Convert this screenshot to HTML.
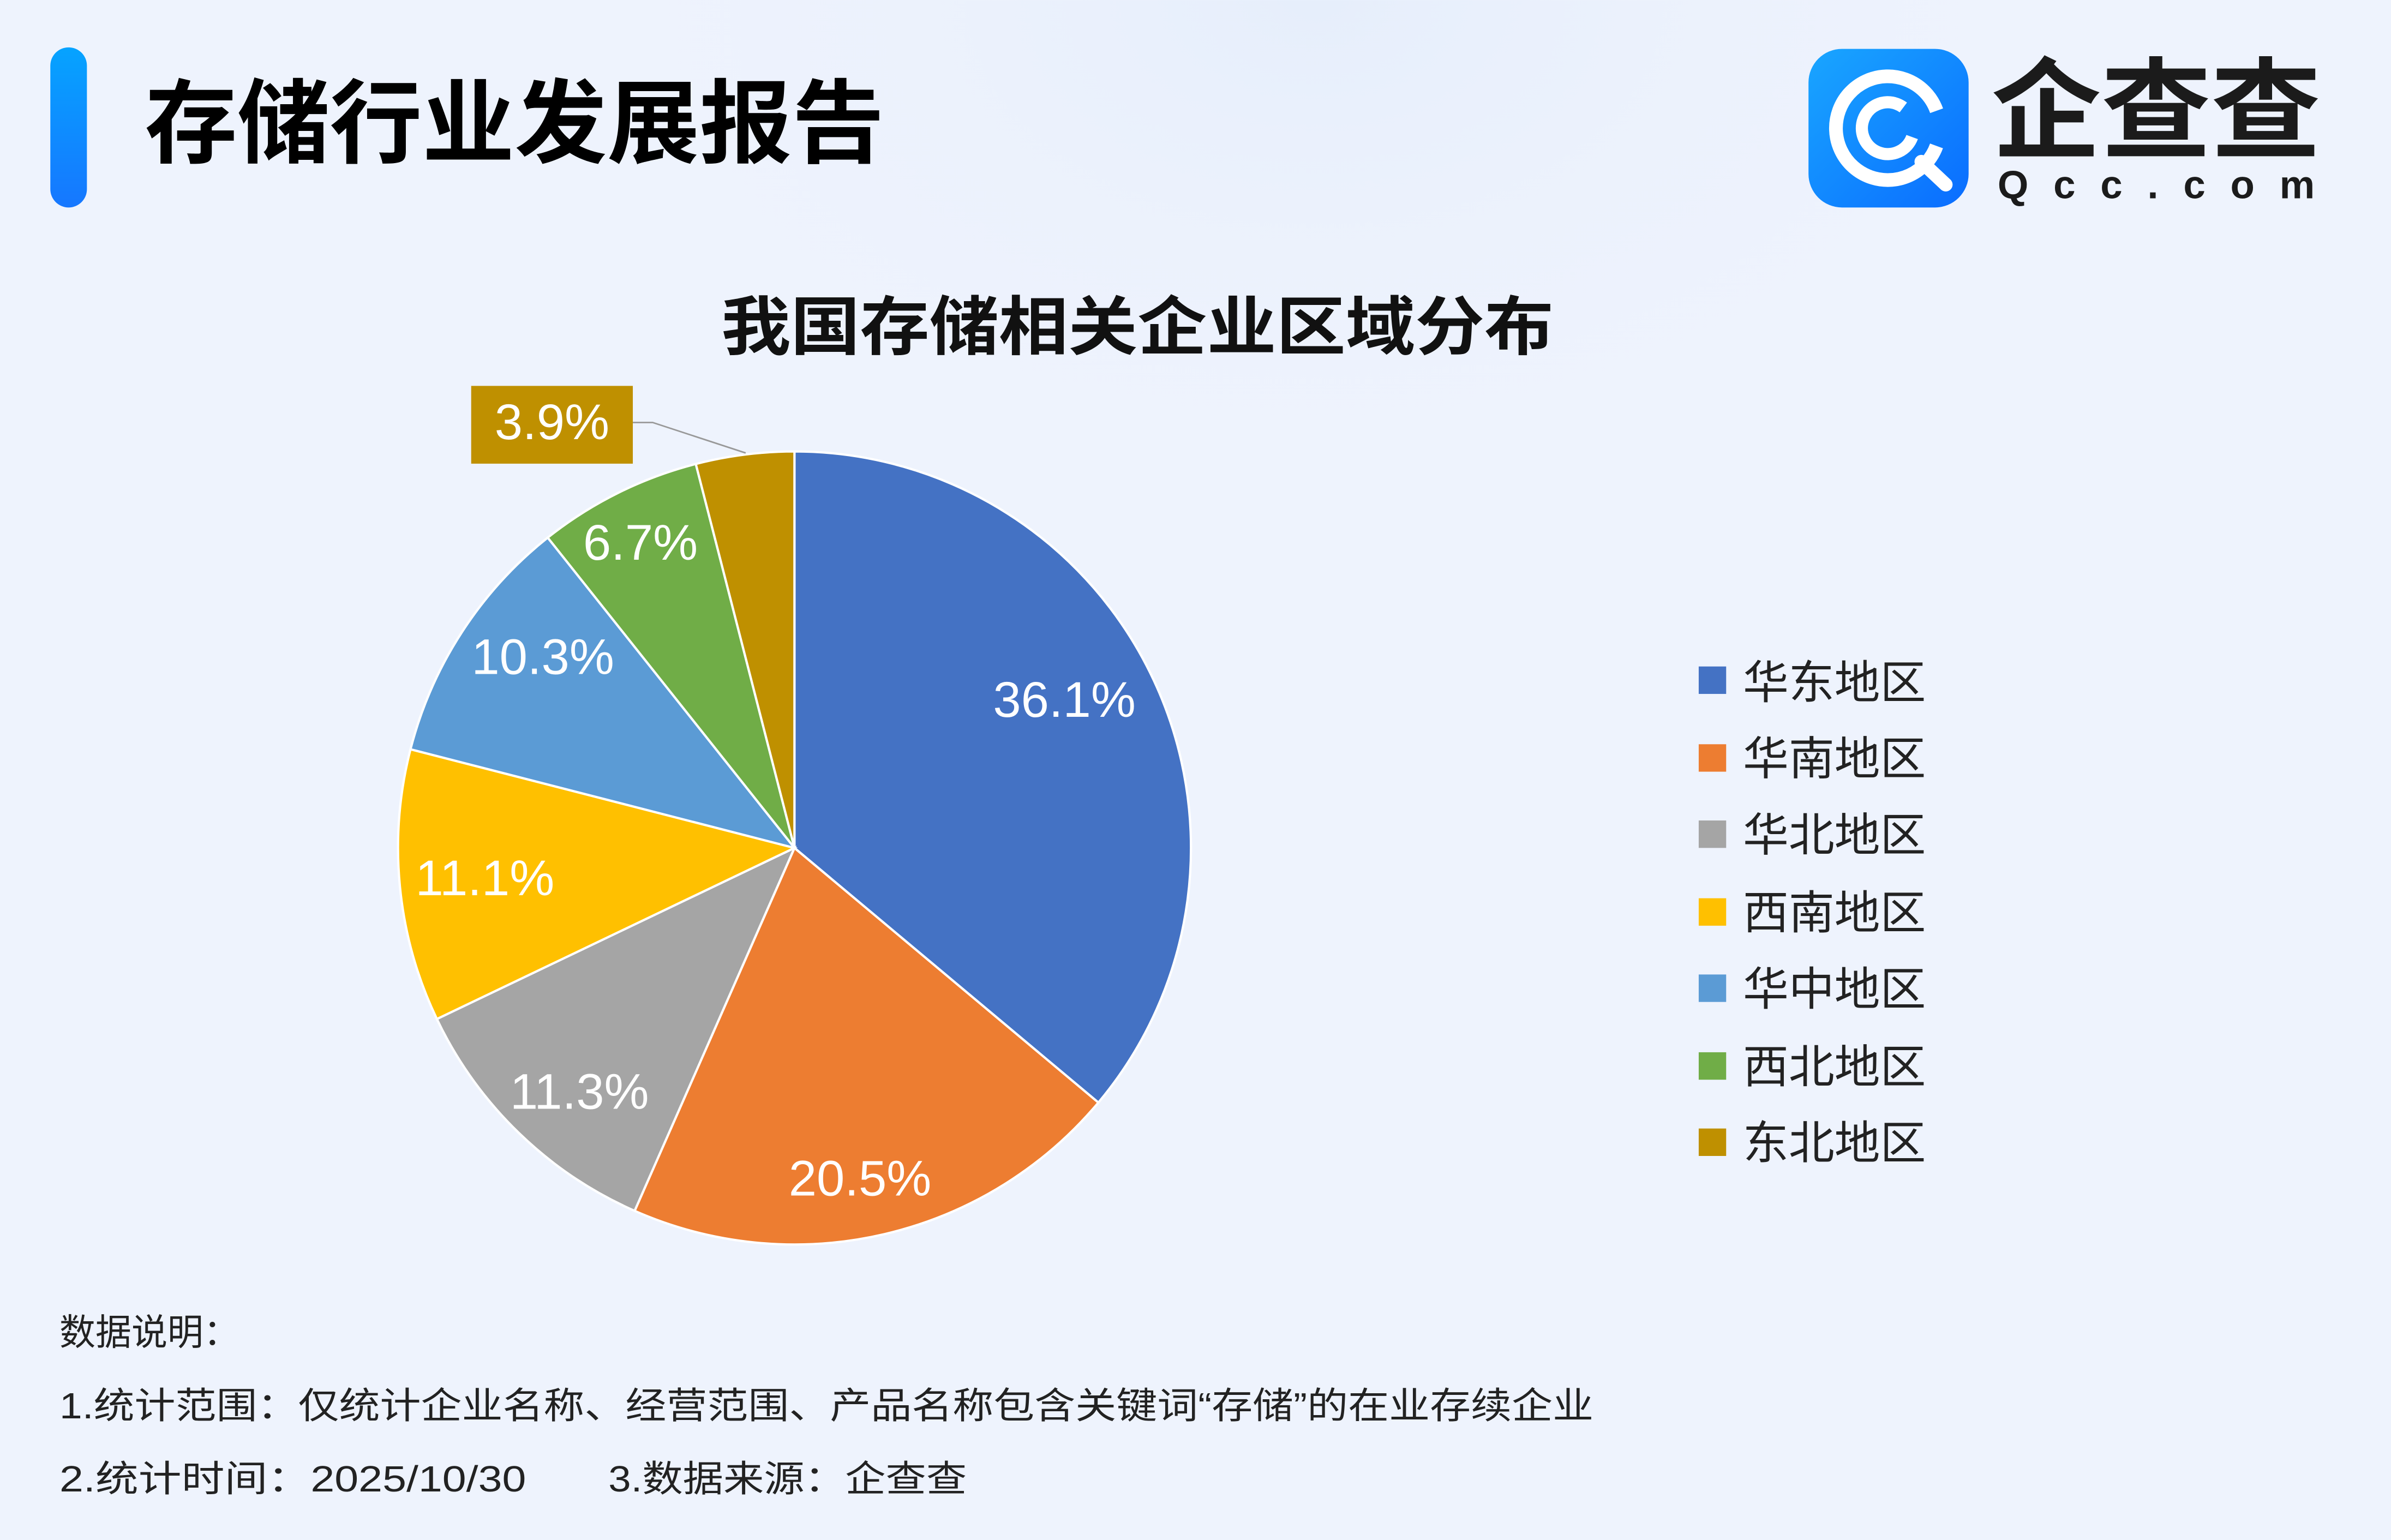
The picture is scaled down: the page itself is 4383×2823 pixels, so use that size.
<!DOCTYPE html>
<html><head><meta charset="utf-8"><style>
html,body{margin:0;padding:0;}
body{width:4383px;height:2818px;overflow:hidden;background:#eef3fd;}
svg text{font-family:"Liberation Sans","Noto Sans CJK SC",sans-serif;}
</style></head><body>
<svg width="4383" height="2818" viewBox="0 0 1568 1008" xmlns="http://www.w3.org/2000/svg">
<defs>
<linearGradient id="bar" x1="0" y1="0" x2="0" y2="1"><stop offset="0" stop-color="#06a3ff"/><stop offset="1" stop-color="#1677ff"/></linearGradient>
<linearGradient id="logo" x1="0" y1="0" x2="1" y2="1"><stop offset="0" stop-color="#19a6ff"/><stop offset="1" stop-color="#0a6cff"/></linearGradient>
<radialGradient id="glow" cx="0.55" cy="0" r="0.35"><stop offset="0" stop-color="#e6eefb"/><stop offset="1" stop-color="#eef3fd" stop-opacity="0"/></radialGradient>
</defs>
<rect width="1568" height="1008" fill="#eef3fd"/>
<rect width="1568" height="1008" fill="url(#glow)"/>
<rect x="33" y="31" width="24" height="105" rx="12" fill="url(#bar)"/>
<text x="95" y="102" font-size="60" font-weight="bold" fill="#000" textLength="485" lengthAdjust="spacingAndGlyphs">存储行业发展报告</text>
<rect x="1186" y="32" width="105" height="104" rx="22" fill="url(#logo)"/>
<circle cx="1238" cy="84" r="34" fill="none" stroke="#fff" stroke-width="9" stroke-dasharray="190 30" transform="rotate(20 1238 84)"/>
<circle cx="1238" cy="84" r="17" fill="none" stroke="#fff" stroke-width="8" stroke-dasharray="85 22" transform="rotate(20 1238 84)"/>
<line x1="1260" y1="106" x2="1276" y2="121" stroke="#fff" stroke-width="9" stroke-linecap="round"/>
<text x="1306" y="98" font-size="72" font-weight="bold" fill="#1b1b1b" textLength="216" lengthAdjust="spacingAndGlyphs">企查查</text>
<text x="1310" y="130" font-size="26" font-weight="bold" fill="#1b1b1b" textLength="208" lengthAdjust="spacing">Qcc.com</text>
<text x="473" y="229" font-size="42" font-weight="bold" fill="#111" textLength="546" lengthAdjust="spacingAndGlyphs">我国存储相关企业区域分布</text>
<g stroke="#fff" stroke-width="1.5">
<path d="M521,556 L521,296 A260,260 0 0 1 720.3,723 Z" fill="#4472c4"/>
<path d="M521,556 L720.3,723 A260,260 0 0 1 416.2,794 Z" fill="#ed7d31"/>
<path d="M521,556 L416.2,794 A260,260 0 0 1 286.5,668.2 Z" fill="#a5a5a5"/>
<path d="M521,556 L286.5,668.2 A260,260 0 0 1 269.2,491.3 Z" fill="#ffc000"/>
<path d="M521,556 L269.2,491.3 A260,260 0 0 1 359.2,352.5 Z" fill="#5b9bd5"/>
<path d="M521,556 L359.2,352.5 A260,260 0 0 1 456.3,304.2 Z" fill="#70ad47"/>
<path d="M521,556 L456.3,304.2 A260,260 0 0 1 521,296 Z" fill="#bf9000"/>
</g>
<g font-size="33" fill="#fff" text-anchor="middle">
<text x="698" y="470">36.1%</text>
<text x="564" y="784">20.5%</text>
<text x="380" y="727">11.3%</text>
<text x="318" y="587">11.1%</text>
<text x="356" y="442">10.3%</text>
<text x="420" y="367">6.7%</text>
</g>
<polyline points="415,277 428,277 489,297" fill="none" stroke="#999" stroke-width="1"/>
<rect x="309" y="253" width="106" height="51" fill="#bf9000"/>
<text x="362" y="288" font-size="33" fill="#fff" text-anchor="middle">3.9%</text>
<g font-size="30" fill="#222">
<rect x="1114" y="437" width="18" height="18" fill="#4472c4"/><text x="1143" y="458">华东地区</text>
<rect x="1114" y="488" width="18" height="18" fill="#ed7d31"/><text x="1143" y="508">华南地区</text>
<rect x="1114" y="538" width="18" height="18" fill="#a5a5a5"/><text x="1143" y="558">华北地区</text>
<rect x="1114" y="589" width="18" height="18" fill="#ffc000"/><text x="1143" y="609">西南地区</text>
<rect x="1114" y="639" width="18" height="18" fill="#5b9bd5"/><text x="1143" y="659">华中地区</text>
<rect x="1114" y="690" width="18" height="18" fill="#70ad47"/><text x="1143" y="710">西北地区</text>
<rect x="1114" y="740" width="18" height="18" fill="#bf9000"/><text x="1143" y="760">东北地区</text>
</g>
<g font-size="24" fill="#222">
<text x="39" y="882" textLength="118" lengthAdjust="spacingAndGlyphs">数据说明：</text>
<text x="39" y="930" textLength="1006" lengthAdjust="spacingAndGlyphs">1.统计范围：仅统计企业名称、经营范围、产品名称包含关键词“存储”的在业存续企业</text>
<text x="39" y="978" textLength="306" lengthAdjust="spacingAndGlyphs">2.统计时间：2025/10/30</text>
<text x="399" y="978" textLength="235" lengthAdjust="spacingAndGlyphs">3.数据来源：企查查</text>
</g>
</svg>
</body></html>
